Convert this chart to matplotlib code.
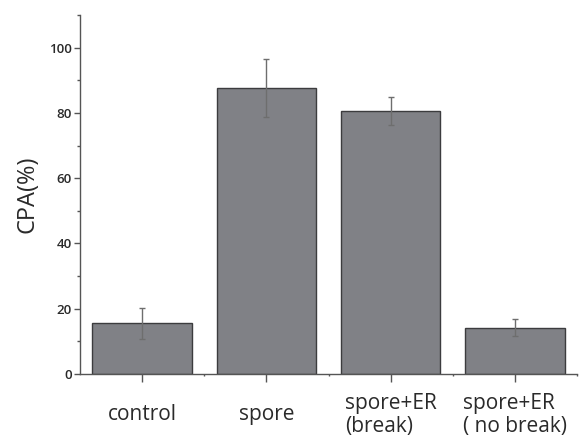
import matplotlib
matplotlib.use("Agg")
import matplotlib.pyplot as plt
from matplotlib.ticker import MultipleLocator, FixedLocator

categories = ["control", "spore", "spore+ER\n(break)", "spore+ER\n( no break)"]
values = [15.5, 87.7, 80.5, 14.2]
errors = [4.7, 8.9, 4.3, 2.7]
yticks = [0, 20, 40, 60, 80, 100]

plt.rcParams['font.family'] = ['Open Sans', 'DejaVu Sans']

fig = plt.figure(figsize=(5.82, 4.41), dpi=100)
ax = fig.add_axes([80/582, 67/441, 497/582, 359/441])

x = list(range(1, len(categories) + 1))
ax.bar(x, values, width=0.8, color="#808186", edgecolor="#3c3c3e", linewidth=1.0, zorder=2)
ax.errorbar(x, values, yerr=errors, fmt="none", ecolor="#6e6e6e", elinewidth=1.0,
            capsize=2.5, capthick=1.0, zorder=3)

ax.set_xlim(0.5, 4.5)
ax.set_ylim(0, 110)
ax.set_yticks(yticks)
ax.yaxis.set_minor_locator(MultipleLocator(10))
ax.set_xticks(x)
ax.set_xticklabels(categories, fontsize=15, color="#2a2a2a", multialignment="left",
                   va="center", linespacing=1.15)
ax.xaxis.set_minor_locator(FixedLocator([1.5, 2.5, 3.5, 4.5]))

for s in ["top", "right"]:
    ax.spines[s].set_visible(False)
for s in ["left", "bottom"]:
    ax.spines[s].set_color("#555555")
    ax.spines[s].set_linewidth(1.0)

ax.tick_params(axis="y", which="major", direction="out", length=4, width=1,
               color="#555555", labelsize=9.5, labelcolor="#2a2a2a", pad=2)
ax.tick_params(axis="y", which="minor", direction="out", length=2.5, width=1, color="#555555")
ax.tick_params(axis="x", which="major", direction="out", length=5.5, width=1,
               color="#555555", pad=24)
ax.tick_params(axis="x", which="minor", direction="out", length=1.5, width=1, color="#555555")
for lab in ax.get_yticklabels():
    lab.set_fontweight("semibold")

ax.set_ylabel("CPA(%)", fontsize=17, color="#2a2a2a", labelpad=7)

fig.savefig("out.png", dpi=100)
